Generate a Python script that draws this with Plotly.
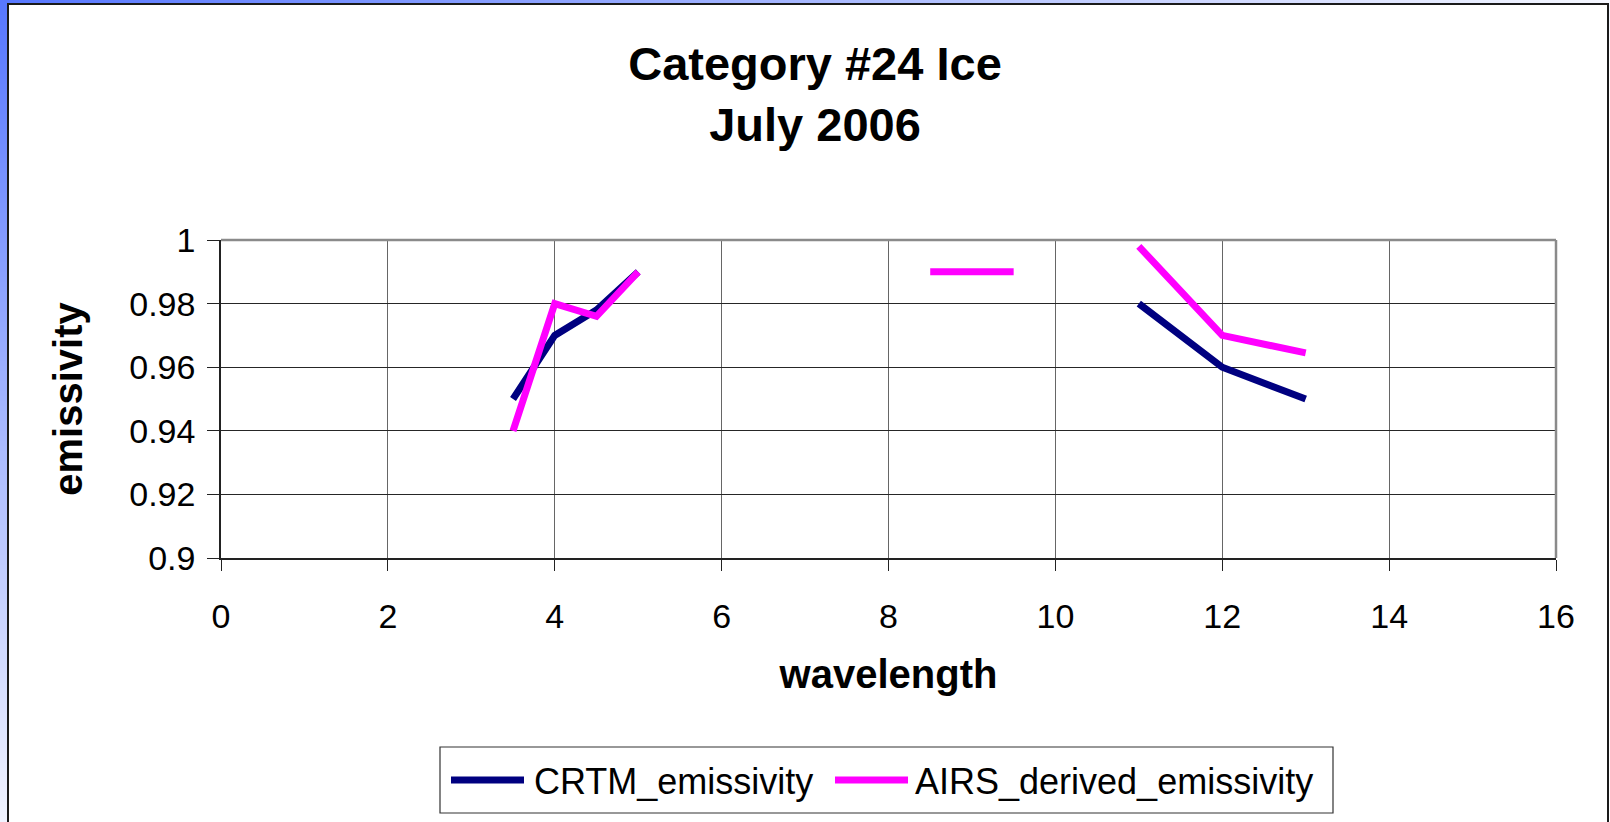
import base64
import struct
import zlib

import plotly.graph_objects as go

# ---- data -------------------------------------------------------------
wavelength = [3.5, 4.0, 4.5, 5.0, 6.7, 8.5, 9.5, 10.0, 11.0, 12.0, 13.0]
crtm_emissivity = [0.95, 0.97, 0.978, 0.99, None, None, None, None, 0.98, 0.96, 0.95]
airs_derived_emissivity = [0.94, 0.98, 0.976, 0.99, None, 0.99, 0.99, None, 0.998, 0.97, 0.9645]

x_ticks = [0, 2, 4, 6, 8, 10, 12, 14, 16]
y_ticks = [0.9, 0.92, 0.94, 0.96, 0.98, 1.0]
y_tick_labels = ["0.9", "0.92", "0.94", "0.96", "0.98", "1"]

series_names = ["CRTM_emissivity", "AIRS_derived_emissivity"]
series_colors = ["#000080", "#FF00FF"]

# ---- page geometry ----------------------------------------------------
W, H = 1610, 822
ML, MR, MT, MB = 221, 54, 240, 264
PW, PH = W - ML - MR, H - MT - MB
FONT = "Liberation Sans, Arial, sans-serif"


def fx(px):
    """Pixel column -> paper x."""
    return (px - ML) / PW


def fy(py):
    """Pixel row -> paper y."""
    return (H - MB - py) / PH


def gradient_png(w, h, scale):
    """Slide background: blue in the top-left corner fading to white."""
    base = (88, 120, 255)
    rows = []
    for j in range(h):
        row = bytearray(b"\x00")
        for i in range(w):
            t = min(1.0, j * scale / 900 + i * scale / 1700)
            row += bytes(int(round(c + (255 - c) * t)) for c in base)
        rows.append(bytes(row))

    def chunk(tag, data):
        return (struct.pack(">I", len(data)) + tag + data
                + struct.pack(">I", zlib.crc32(tag + data) & 0xFFFFFFFF))

    png = (b"\x89PNG\r\n\x1a\n"
           + chunk(b"IHDR", struct.pack(">IIBBBBB", w, h, 8, 2, 0, 0, 0))
           + chunk(b"IDAT", zlib.compress(b"".join(rows), 9))
           + chunk(b"IEND", b""))
    return "data:image/png;base64," + base64.b64encode(png).decode()


fig = go.Figure()
for name, values, color in zip(series_names,
                               [crtm_emissivity, airs_derived_emissivity],
                               series_colors):
    fig.add_trace(go.Scatter(
        x=wavelength, y=values, name=name, mode="lines",
        line=dict(color=color, width=7),
        connectgaps=False, showlegend=False,
    ))

shapes = [
    # white chart panel with dark frame
    dict(type="rect", xref="paper", yref="paper", layer="below",
         x0=fx(8), x1=fx(1608), y0=fy(840), y1=fy(4),
         fillcolor="white", line=dict(color="#1a1a1a", width=2)),
    # plot-area border (top and right)
    dict(type="line", xref="paper", yref="paper", x0=0, x1=1, y0=1, y1=1,
         line=dict(color="#8a8a8a", width=2.5)),
    dict(type="line", xref="paper", yref="paper", x0=1, x1=1, y0=0, y1=1,
         line=dict(color="#8a8a8a", width=2.5)),
    # legend frame
    dict(type="rect", xref="paper", yref="paper",
         x0=fx(440), x1=fx(1333), y0=fy(813), y1=fy(747),
         fillcolor="white", line=dict(color="#333333", width=1.2), layer="below"),
]

annotations = []
legend_items = [(451, 524, 532), (835, 908, 913)]
for (lx0, lx1, tx), name, color in zip(legend_items, series_names, series_colors):
    shapes.append(dict(type="line", xref="paper", yref="paper",
                       x0=fx(lx0), x1=fx(lx1), y0=fy(780), y1=fy(780),
                       line=dict(color=color, width=7)))
    annotations.append(dict(xref="paper", yref="paper", x=fx(tx), y=fy(781),
                            xanchor="left", yanchor="middle", showarrow=False,
                            text=name, font=dict(family=FONT, size=36, color="black")))

fig.update_layout(
    width=W, height=H,
    margin=dict(l=ML, r=MR, t=MT, b=MB, pad=0),
    paper_bgcolor="white", plot_bgcolor="white",
    title=dict(text="<b>Category #24 Ice<br>July 2006</b>",
               xref="container", yref="container",
               x=815 / W, xanchor="center", y=1 - 80 / H, yanchor="middle",
               font=dict(family=FONT, size=47, color="black")),
    images=[dict(source=gradient_png(161, 83, 10), xref="paper", yref="paper",
                 x=fx(0), y=fy(0), sizex=W / PW, sizey=H / PH,
                 xanchor="left", yanchor="top", sizing="stretch", layer="below")],
    shapes=shapes,
    annotations=annotations,
    showlegend=False,
)

fig.update_xaxes(
    range=[0, 16], tickvals=x_ticks, ticktext=[str(v) for v in x_ticks],
    showgrid=True, gridcolor="#666666", gridwidth=1,
    zeroline=False, showline=True, linecolor="#222222", linewidth=1.5,
    ticks="outside", ticklen=11, tickwidth=1.2, tickcolor="#222222",
    ticklabelstandoff=16,
    tickfont=dict(family=FONT, size=34, color="black"),
    title=dict(text="<b>wavelength</b>", standoff=26,
               font=dict(family=FONT, size=40, color="black")),
)
fig.update_yaxes(
    range=[0.9, 1.0], tickvals=y_ticks, ticktext=y_tick_labels,
    showgrid=True, gridcolor="#262626", gridwidth=1,
    zeroline=False, showline=True, linecolor="#222222", linewidth=1.5,
    ticks="outside", ticklen=12, tickwidth=1.2, tickcolor="#222222",
    ticklabelstandoff=5,
    tickfont=dict(family=FONT, size=34, color="black"),
    title=dict(text="<b>emissivity</b>", standoff=34,
               font=dict(family=FONT, size=40, color="black")),
)

fig.write_html("out.html")
